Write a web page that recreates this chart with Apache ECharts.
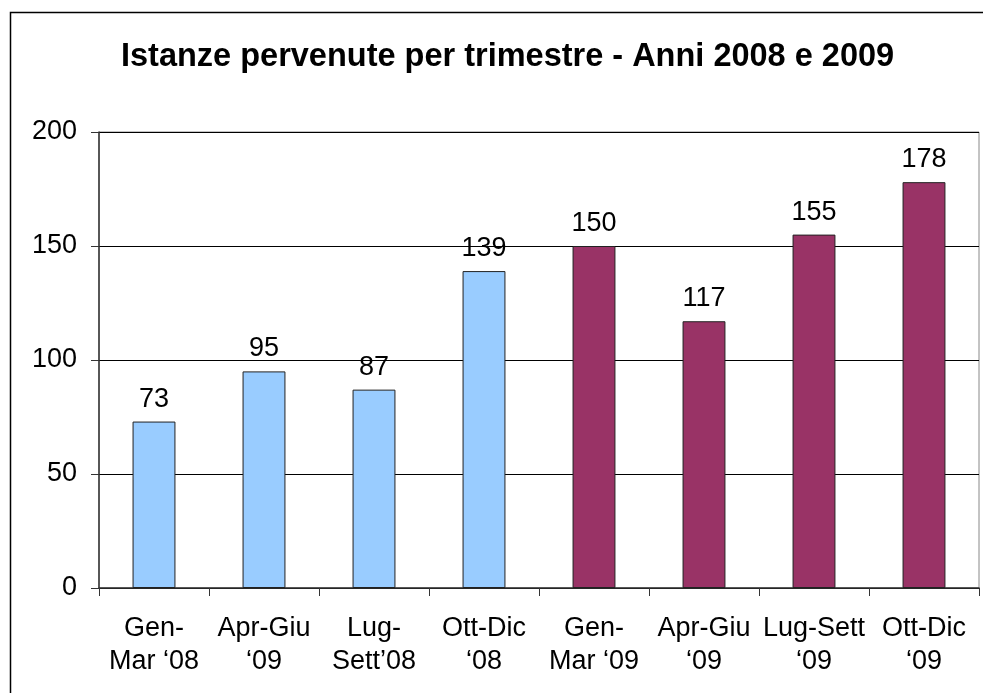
<!DOCTYPE html>
<html>
<head>
<meta charset="utf-8">
<script src="https://cdn.jsdelivr.net/npm/echarts@6/dist/echarts.min.js"></script>
<style>
  html, body { margin: 0; padding: 0; background: #fff; }
  #chart { width: 983px; height: 693px; }
</style>
</head>
<body>
<div id="chart"></div>
<script>
// trimestri 2008 e 2009
var categories = ['Gen-\nMar \u201808', 'Apr-Giu\n\u201809', 'Lug-\nSett\u201908', 'Ott-Dic\n\u201808',
  'Gen-\nMar \u201809', 'Apr-Giu\n\u201809', 'Lug-Sett\n\u201809', 'Ott-Dic\n\u201809']
var values = [73, 95, 87, 139, 150, 117, 155, 178]
var yearOf = [2008, 2008, 2008, 2008, 2009, 2009, 2009, 2009]
var yearColors = { 2008: '#99ccff', 2009: '#993366' }

var chart = echarts.init(document.getElementById('chart'))
var font = 'Liberation Sans, Arial, sans-serif'

chart.setOption({
  animation: false,
  textStyle: { fontFamily: font },
  title: {
    text: 'Istanze pervenute per trimestre - Anni 2008 e 2009',
    left: 116,
    top: 36,
    textStyle: { fontSize: 32.5, fontWeight: 'bold', color: '#000', fontFamily: font }
  },
  graphic: [{
    type: 'rect',
    shape: { x: 10.5, y: 12.5, width: 1000, height: 700 },
    style: { fill: null, stroke: '#000', lineWidth: 1.5 },
    silent: true
  }],
  grid: {
    left: 99,
    right: 4,
    top: 132,
    bottom: 105,
    show: true,
    borderColor: '#888',
    borderWidth: 1
  },
  xAxis: {
    type: 'category',
    data: categories,
    axisLine: { lineStyle: { color: '#333', width: 1.5 } },
    axisTick: { show: true, length: 8, lineStyle: { color: '#333' } },
    axisLabel: {
      color: '#000',
      fontSize: 27,
      lineHeight: 33,
      margin: 24,
      interval: 0,
      fontFamily: font
    }
  },
  yAxis: {
    type: 'value',
    min: 0,
    max: 200,
    interval: 50,
    axisLine: { show: true, lineStyle: { color: '#333', width: 1.5 } },
    axisTick: { show: true, length: 8, lineStyle: { color: '#333' } },
    splitLine: { lineStyle: { color: '#000', width: 1 } },
    axisLabel: { color: '#000', fontSize: 27, margin: 22, fontFamily: font }
  },
  series: [{
    type: 'bar',
    barWidth: '39%',
    data: values.map(function (v, i) {
      return { value: v, itemStyle: { color: yearColors[yearOf[i]] } }
    }),
    itemStyle: { borderColor: '#222', borderWidth: 1 },
    label: {
      show: true,
      position: 'top',
      distance: 9,
      color: '#000',
      fontSize: 27,
      fontFamily: font
    }
  }]
})
</script>
</body>
</html>
